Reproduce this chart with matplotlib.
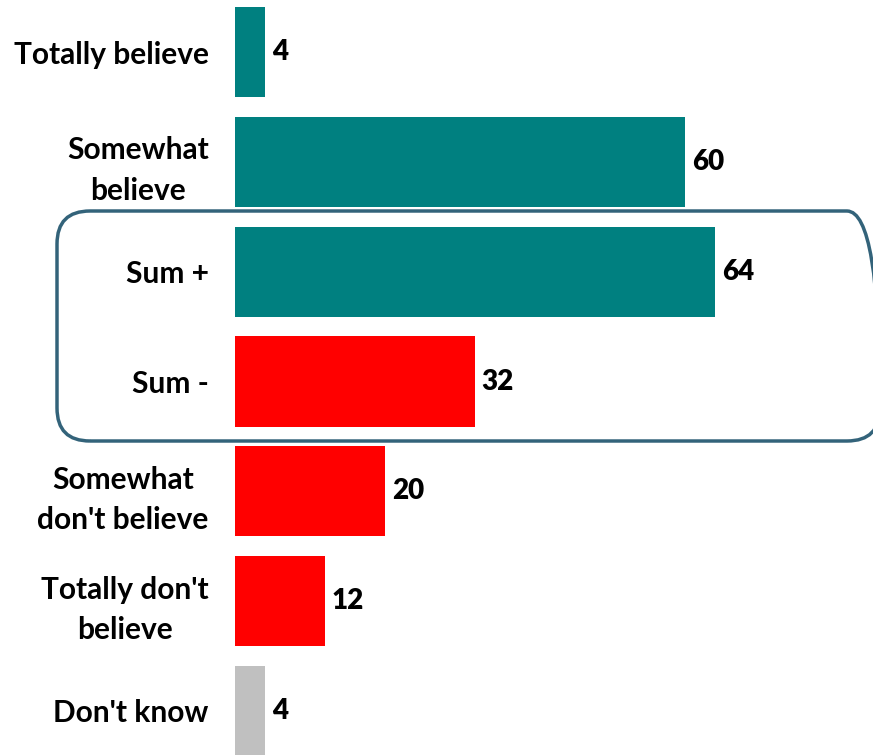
import matplotlib.pyplot as plt
from matplotlib.patches import FancyBboxPatch

categories = ['Totally believe', 'Somewhat\nbelieve', 'Sum +', 'Sum -',
              'Somewhat\ndon\'t believe', 'Totally don\'t\nbelieve', 'Don\'t know']
values = [4, 60, 64, 32, 20, 12, 4]
colors = ['#008080', '#008080', '#008080', '#FF0000', '#FF0000', '#FF0000', '#C0C0C0']

plt.rcParams['font.family'] = ['Lato', 'DejaVu Sans']

fig = plt.figure(figsize=(8.73, 7.55), dpi=100)
ax = fig.add_axes([235 / 873, 0, 1 - 235 / 873, 1])

pos = list(range(len(categories)))
ax.barh(pos, values, height=0.82, color=colors)

for p, v in zip(pos, values):
    ax.text(v + 0.9, p, str(v), va='center', ha='left', fontsize=20, fontweight='heavy')

ax.set_yticks(pos)
ax.set_yticklabels(categories, fontsize=21.5, fontweight='bold', linespacing=1.55)
ax.tick_params(axis='y', length=0, pad=19)
for lbl in ax.get_yticklabels():
    lbl.set_multialignment('center')
ax.set_xticks([])
ax.set_xlim(0, (873 - 235) / 7.5)
ax.set_ylim(6 + 44 / 109.8, -52 / 109.8)
for s in ax.spines.values():
    s.set_visible(False)

# rounded highlight box around the sums (inches)
box = FancyBboxPatch((0.57, (755 - 441) / 100), (880 - 57) / 100, (441 - 211) / 100,
                     boxstyle='round,pad=0,rounding_size=0.33',
                     transform=fig.dpi_scale_trans, fill=False,
                     edgecolor='#33637A', linewidth=2.5, clip_on=False)
fig.patches.append(box)

fig.savefig('out.png', dpi=100)
